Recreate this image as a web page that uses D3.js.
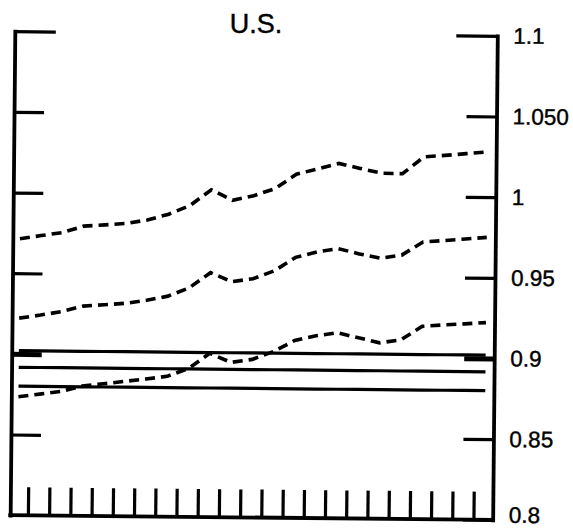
<!DOCTYPE html>
<html><head><meta charset="utf-8">
<script src="https://cdn.jsdelivr.net/npm/d3@7"></script>
<style>html,body{margin:0;padding:0;background:#fff;} svg{display:block;}</style>
</head><body>
<svg id="chart" width="573" height="531"></svg>
<script>
const titleText = "U.S.";
const periods = [0.5,1.5,2.5,3.5,4.5,5.5,6.5,7.5,8.5,9.5,10.5,11.5,12.5,13.5,14.5,15.5,16.5,17.5,18.5,19.5,20.5,21.5,22.5];
const upperDashed  = [0.9714,0.9735,0.9755,0.9796,0.9805,0.9815,0.9838,0.9875,0.9930,1.0029,0.9965,0.9995,1.0040,1.0130,1.0165,1.0200,1.0170,1.0142,1.0140,1.0245,1.0256,1.0268,1.0280];
const middleDashed = [0.9222,0.9242,0.9265,0.9300,0.9310,0.9320,0.9340,0.9367,0.9420,0.9515,0.9460,0.9480,0.9530,0.9615,0.9650,0.9672,0.9640,0.9615,0.9635,0.9718,0.9728,0.9739,0.9750];
const lowerDashed  = [0.8735,0.8752,0.8770,0.8805,0.8820,0.8836,0.8852,0.8870,0.8920,0.9015,0.8960,0.8980,0.9030,0.9100,0.9130,0.9150,0.9120,0.9090,0.9110,0.9195,0.9205,0.9213,0.9222];
const solidLevels = [0.902, 0.8917, 0.880];
const periodTicks = [1,2,3,4,5,6,7,8,9,10,11,12,13,14,15,16,17,18,19,20,21,22];
const yTickValues = [0.8,0.85,0.9,0.95,1,1.05,1.1];
const yTickLabels = ["0.8","0.85","0.9","0.95","1","1.050","1.1"];
const leftTickValues = [0.85,0.9,0.95,1,1.05,1.1];

const FONT = "'Liberation Sans', Arial, Helvetica, sans-serif";
const svg = d3.select("#chart");
const x = d3.scaleLinear().domain([0,23]).range([9,497]);
const y = d3.scaleLinear().domain([0.8,1.1]).range([517.5,33.5]);
const leftX = 12.5, rightX = 495;

svg.append("text").attr("x",256).attr("y",33).attr("text-anchor","middle")
  .attr("font-family",FONT).attr("font-size",27).attr("fill","#000")
  .attr("stroke","#000").attr("stroke-width",0.4).text(titleText);

const g = svg.append("g").attr("transform","rotate(0.55,253,275)");

// lines
const line = d3.line().x(d=>x(d[0])).y(d=>y(d[1]));
solidLevels.forEach(lv=>{
  g.append("path").datum(periods.map(p=>[p,lv])).attr("d",line)
    .attr("fill","none").attr("stroke","#000").attr("stroke-width",3.2);
});
[upperDashed, middleDashed, lowerDashed].forEach(series=>{
  g.append("path").datum(periods.map((p,i)=>[p,series[i]])).attr("d",line)
    .attr("fill","none").attr("stroke","#000").attr("stroke-width",3.6)
    .attr("stroke-dasharray","10,6");
});

// left axis
const leftAxis = g.append("g").attr("transform",`translate(${leftX},0)`)
  .call(d3.axisLeft(y).tickValues(leftTickValues).tickSize(-30).tickSizeOuter(0).tickFormat(""));
// right axis
const rightAxis = g.append("g").attr("transform",`translate(${rightX},0)`)
  .call(d3.axisRight(y).tickValues(yTickValues).tickSize(-30).tickSizeOuter(0).tickPadding(16)
    .tickFormat((d,i)=>yTickLabels[i]));
// bottom axis
const bottomAxis = g.append("g").attr("transform",`translate(0,${y(0.8)})`)
  .call(d3.axisBottom(x).tickValues(periodTicks).tickSize(-28).tickSizeOuter(0).tickFormat(""));
bottomAxis.select(".domain").remove();
g.append("line").attr("x1",leftX).attr("x2",rightX).attr("y1",y(0.8)).attr("y2",y(0.8))
  .attr("stroke","#000").attr("stroke-width",3.8).attr("stroke-linecap","square");

[leftAxis,rightAxis].forEach(a=>{
  a.select(".domain").attr("stroke","#000").attr("stroke-width",3.8).attr("stroke-linecap","square");
});
[leftAxis,rightAxis,bottomAxis].forEach(a=>{
  a.selectAll(".tick line").attr("stroke","#000").attr("stroke-width",3.2);
});
leftAxis.selectAll(".tick line").attr("x2",d=>d===1.1?41:30).attr("stroke-width",d=>d===0.9?5:3.2);
rightAxis.selectAll(".tick line").attr("x2",d=>d===1.1?-41:-30).attr("stroke-width",d=>d===0.9?5:3.2);
rightAxis.selectAll(".tick text").attr("font-family",FONT).attr("font-size",22.5).attr("fill","#000")
  .attr("stroke","#000").attr("stroke-width",0.4)
  .attr("dy",d=>d===0.8?"0.1em":"0.32em");
</script>
</body></html>
